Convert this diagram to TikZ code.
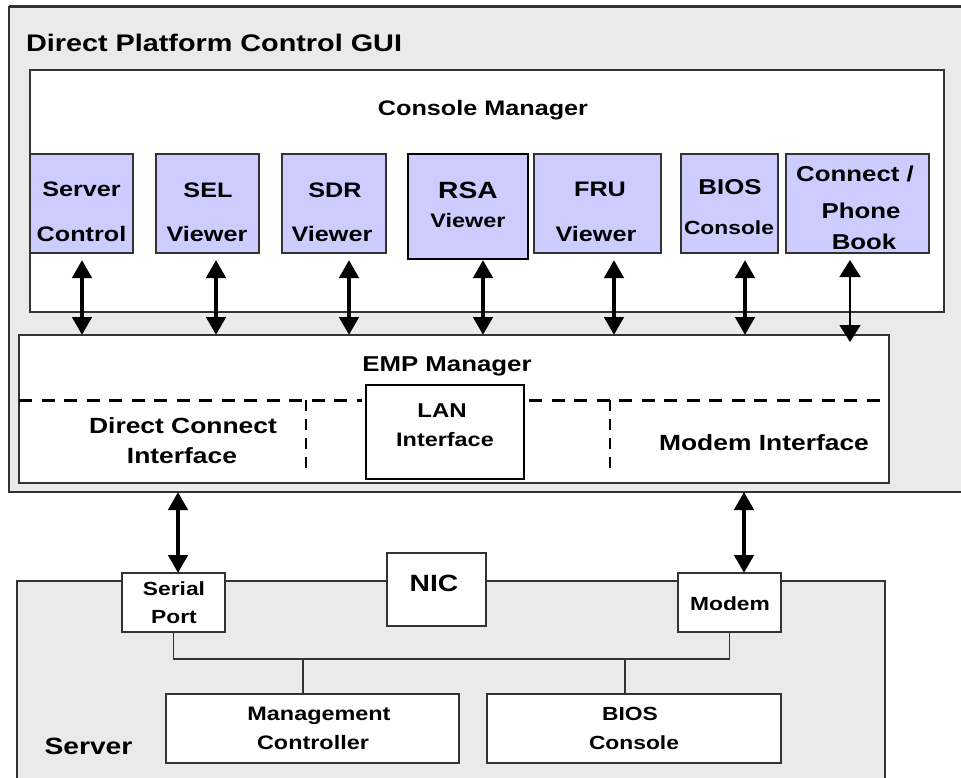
\documentclass[tikz,border=0pt]{standalone}
\usepackage{fontspec}
\setmainfont{Liberation Sans}[FakeStretch=1.2]
\usetikzlibrary{arrows.meta}
\definecolor{guigray}{HTML}{EAEAEA}
\definecolor{lav}{HTML}{CCCCFF}
\definecolor{edge}{HTML}{333333}
\newcommand\fsz[1]{\fontsize{#1}{#1}\selectfont\bfseries}
\newcommand\mylbl[5]{\node[txt,font=\fsz{#4}] (#1) at (#2,#3) {#5};}
\tikzset{
  bigtip/.tip={Triangle[width=19pt,length=18pt]},
  thintip/.tip={Triangle[width=21pt,length=17pt]},
}
\begin{document}
\begin{tikzpicture}[x=1pt,y=-1pt,
  every node/.style={inner sep=0pt, outer sep=0pt},
  frame/.style={draw=edge, line width=1.3pt, fill=white, anchor=north west},
  graybox/.style={draw=edge, line width=1.5pt, fill=guigray, anchor=north west},
  viewer/.style={draw=edge, line width=1.2pt, fill=lav, anchor=north west, minimum height=99pt},
  txt/.style={anchor=base, align=center},
  dbl/.style={bigtip-bigtip, line width=4.5pt},
  thin/.style={thintip-thintip, line width=1.8pt},
  hdash/.style={draw=black, line width=3pt, dash pattern=on 13pt off 9.5pt},
  vdash/.style={draw=black, line width=2.5pt, dash pattern=on 11pt off 8pt},
  bus/.style={draw=edge, line width=1.2pt},
]
\fill[white] (0,0) rectangle (961,778);
\useasboundingbox (0,0) rectangle (961,778);
\clip (0,0) rectangle (961,778);

% GUI frame
\node[graybox, minimum width=1000pt, minimum height=485pt] (gui) at (9,7) {};
\draw[edge, line width=3pt] (gui.north west) -- (gui.north east);
\node[anchor=base west, font=\fsz{24}] (title) at (26,52) {Direct Platform Control GUI};

% Console manager
\node[frame, minimum width=914pt, minimum height=242pt] (cm) at (30,70) {};
\mylbl{cmt}{483}{116}{21}{Console Manager}

% viewers
\node[viewer, minimum width=103pt] (sc) at (30,154) {};
\node[viewer, minimum width=103pt] (sel) at (156,154) {};
\node[viewer, minimum width=104pt] (sdr) at (282,154) {};
\node[viewer, draw=black, line width=2pt, minimum width=120pt, minimum height=105pt] (rsa) at (408,154) {};
\node[viewer, minimum width=127pt] (fru) at (534,154) {};
\node[viewer, minimum width=97pt] (bios) at (681,154) {};
\node[viewer, minimum width=143pt] (cpb) at (786,154) {};

\mylbl{sc1}{81.5}{196.7}{21}{Server}
\mylbl{sc2}{81.5}{241.7}{21}{Control}
\mylbl{sel1}{208}{197.3}{21}{SEL}
\mylbl{sel2}{207}{241.7}{21}{Viewer}
\mylbl{sdr1}{335}{197.3}{21}{SDR}
\mylbl{sdr2}{332}{241.7}{21}{Viewer}
\mylbl{rsa1}{468}{198.3}{23.5}{RSA}
\mylbl{rsa2}{468}{227.3}{19.5}{Viewer}
\mylbl{fru1}{600}{197}{21}{FRU}
\mylbl{fru2}{596}{241.7}{21}{Viewer}
\mylbl{bios1}{730}{195}{21.5}{BIOS}
\mylbl{bios2}{729}{235}{19}{Console}
\mylbl{cpb1}{855}{181.7}{21.5}{Connect /}
\mylbl{cpb2}{861}{218.3}{21.5}{Phone}
\mylbl{cpb3}{864}{249.3}{21.5}{Book}

% EMP manager
\node[frame, minimum width=870pt, minimum height=148pt] (emp) at (19,335) {};
\mylbl{empt}{447}{371.7}{21.5}{EMP Manager}
\draw[hdash] (19,400) -- (362,400);
\draw[hdash] (529,400) -- (889,400);
\draw[vdash] (306,400) -- (306,476);
\draw[vdash] (610,400) -- (610,476);
\node[frame, line width=1.6pt, draw=black, minimum width=158pt, minimum height=94pt] (lan) at (366,385) {};
\mylbl{dci1}{183}{433.3}{22}{Direct Connect}
\mylbl{dci2}{182}{463.3}{22}{Interface}
\mylbl{lan1}{442}{417.3}{20}{LAN}
\mylbl{lan2}{445}{446.7}{19.5}{Interface}
\mylbl{mi}{764}{450}{22}{Modem Interface}

% arrows console -> EMP
\path (sc.south) ++(0.5,7) coordinate (scA);
\path (sel.south) ++(8.5,7) coordinate (selA);
\path (sdr.south) ++(15,7) coordinate (sdrA);
\path (rsa.south) ++(15,1) coordinate (rsaA);
\path (fru.south) ++(16.5,7) coordinate (fruA);
\path (bios.south) ++(15.5,7) coordinate (biosA);
\path (cpb.south) ++(-7.5,7) coordinate (cpbA);
\foreach \c in {scA,selA,sdrA,rsaA,fruA,biosA}
  \draw[dbl] (\c) -- (\c |- emp.north);
\path (cpbA |- emp.north) ++(0,7) coordinate (cpbB);
\draw[thin] (cpbA) -- (cpbB);

% Server
\node[graybox, minimum width=868pt, minimum height=250pt] (srv) at (17,581) {};
\node[frame, minimum width=103pt, minimum height=59pt] (sp) at (122,573) {};
\node[frame, minimum width=99pt, minimum height=73pt] (nic) at (387,553) {};
\node[frame, minimum width=103pt, minimum height=59pt] (mo) at (678,573) {};
\node[frame, minimum width=293pt, minimum height=69pt] (mc) at (166,694) {};
\node[frame, minimum width=294pt, minimum height=69pt] (bc) at (487,694) {};

\mylbl{sp1}{174}{595}{19}{Serial}
\mylbl{sp2}{174}{623.3}{19}{Port}
\mylbl{nict}{434}{591.7}{23.5}{NIC}
\mylbl{mot}{730}{610}{19}{Modem}
\mylbl{mc1}{319}{720.7}{19.5}{Management}
\mylbl{mc2}{313}{749.3}{19.5}{Controller}
\mylbl{bc1}{630}{720.7}{19}{BIOS}
\mylbl{bc2}{634}{749.3}{19}{Console}
\mylbl{srvt}{88.5}{754}{23.5}{Server}

% bus
\draw[bus] (sp.south) -- ++(0,27) -| (mo.south);
\draw[bus] ([xshift=-9.5pt]mc.north) -- ++(0,-35);
\draw[bus] ([xshift=-9pt]bc.north) -- ++(0,-35);

% arrows server <-> GUI
\path ([xshift=4.5pt]sp.north) coordinate (spA);
\path ([xshift=14.5pt]mo.north) coordinate (moA);
\draw[dbl] (spA) -- (spA |- gui.south);
\draw[dbl] (moA) -- (moA |- gui.south);
\end{tikzpicture}
\end{document}
